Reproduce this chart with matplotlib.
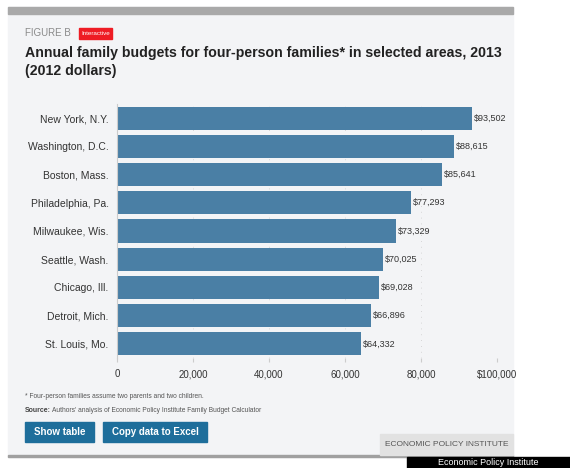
import matplotlib
matplotlib.use("Agg")
import matplotlib.pyplot as plt
from matplotlib.patches import Rectangle

plt.rcParams["font.family"] = ["Liberation Sans", "DejaVu Sans"]

cities = ["New York, N.Y.", "Washington, D.C.", "Boston, Mass.", "Philadelphia, Pa.",
          "Milwaukee, Wis.", "Seattle, Wash.", "Chicago, Ill.", "Detroit, Mich.", "St. Louis, Mo."]
budgets = [93502, 88615, 85641, 77293, 73329, 70025, 69028, 66896, 64332]
xticks = [0, 20000, 40000, 60000, 80000, 100000]
xtick_labels = ["0", "20,000", "40,000", "60,000", "80,000", "$100,000"]

W, H = 570, 468
fig = plt.figure(figsize=(W/100, H/100), dpi=100)
fig.patch.set_facecolor("white")

def px(x, y, w, h):
    return [x/W, 1 - (y+h)/H, w/W, h/H]

# background panel
bg = fig.add_axes([0, 0, 1, 1])
bg.set_xlim(0, W); bg.set_ylim(H, 0); bg.axis("off")
bg.add_patch(Rectangle((8, 7), 505, 450, color="#f3f4f6", zorder=0))
bg.add_patch(Rectangle((8, 7), 505, 7, color="#a9a9a9", zorder=1))
bg.add_patch(Rectangle((8, 455), 505, 2, color="#a0a0a0", zorder=1))
bg.add_patch(Rectangle((380, 434), 133, 21, color="#e2e2e2", zorder=1))
bg.add_patch(Rectangle((407, 457), 163, 11, color="black", zorder=2))
bg.text(25, 33, "FIGURE B", fontsize=7, color="#8a8a8a", va="center", ha="left")
bg.add_patch(Rectangle((79, 28), 33, 11, color="#ee1c24", zorder=2))
bg.text(95.5, 33.5, "Interactive", fontsize=4.5, color="white", va="center", ha="center", zorder=3)
bg.text(25, 53, "Annual family budgets for four-person families* in selected areas, 2013",
        fontsize=10.2, fontweight="bold", color="#222222", va="center", ha="left")
bg.text(25, 71, "(2012 dollars)", fontsize=10.2, fontweight="bold", color="#222222", va="center", ha="left")
bg.text(25, 396, "* Four-person families assume two parents and two children.",
        fontsize=4.8, color="#555555", va="center", ha="left")
bg.text(25, 410, "Source:", fontsize=5, fontweight="bold", color="#444444", va="center", ha="left")
bg.text(52, 410, "Authors' analysis of Economic Policy Institute Family Budget Calculator",
        fontsize=4.8, color="#555555", va="center", ha="left")
bg.add_patch(Rectangle((25, 422), 69, 20, color="#1e6e9b", zorder=2))
bg.text(59.5, 432, "Show table", fontsize=7, fontweight="bold", color="white", va="center", ha="center", zorder=3)
bg.add_patch(Rectangle((103, 422), 104, 20, color="#1e6e9b", zorder=2))
bg.text(155, 432, "Copy data to Excel", fontsize=7, fontweight="bold", color="white", va="center", ha="center", zorder=3)
bg.text(447, 445, "ECONOMIC POLICY INSTITUTE", fontsize=6, color="#555555", va="center", ha="center", zorder=3)
bg.text(488, 462.5, "Economic Policy Institute", fontsize=6.5, color="white", va="center", ha="center", zorder=3)

# chart axes: x 0 at px 117, 100000 at px 497
ax = fig.add_axes(px(117, 104, 380, 254))
ax.patch.set_alpha(0)
y = list(range(len(cities)))
ax.barh(y, budgets, height=0.82, color="#4a7fa5", zorder=2)
ax.set_xlim(0, 100000)
ax.set_ylim(len(cities) - 0.5, -0.5)
ax.set_yticks(y)
ax.set_yticklabels(cities, fontsize=7.5, color="#333333")
ax.set_xticks(xticks)
ax.set_xticklabels(xtick_labels, fontsize=7, color="#333333")
ax.tick_params(axis="y", length=0, pad=6)
ax.tick_params(axis="x", length=3, color="#cccccc", pad=5)
for s in ["top", "right", "bottom"]:
    ax.spines[s].set_visible(False)
ax.spines["left"].set_color("#cccccc")
ax.spines["left"].set_linewidth(0.8)
for t in xticks[1:]:
    ax.axvline(t, color="#cccccc", lw=0.6, ls=(0, (1, 6)), zorder=1)
for yi, v in zip(y, budgets):
    ax.text(v + 500, yi, f"${v:,}", fontsize=6.5, color="#333333", va="center", ha="left")

fig.savefig("out.png", dpi=100)
